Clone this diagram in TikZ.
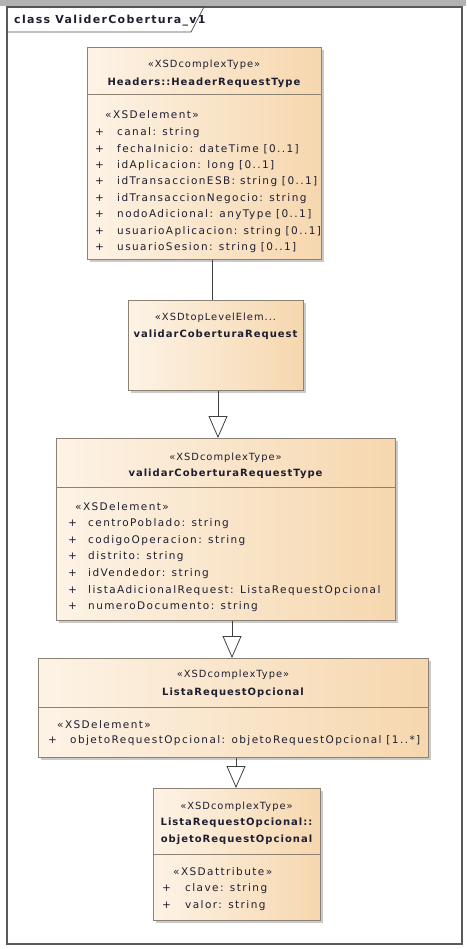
\documentclass[tikz,border=0pt]{standalone}
\usepackage{fontspec}
\setmainfont{DejaVu Sans}[LetterSpace=10]
\usetikzlibrary{arrows.meta,shadows}

\definecolor{boxl}{HTML}{FDF3E6}
\definecolor{boxr}{HTML}{F6D7AE}
\definecolor{boxline}{HTML}{8C8273}
\definecolor{txt}{HTML}{1E1E32}

\begin{document}
\begin{tikzpicture}[x=1pt, y=-1pt,
    cls/.style={draw=boxline, line width=0.8pt, left color=boxl, right color=boxr,
      anchor=north west, inner sep=0pt,
      drop shadow={shadow xshift=2.5pt, shadow yshift=-2.5pt, opacity=0.35, fill=black!60}},
    divider/.style={draw=boxline, line width=0.8pt},
    stereo/.style={font=\fontsize{9.9}{11}\selectfont, text=txt, inner sep=0pt},
    clsname/.style={font=\fontsize{10}{17}\selectfont\bfseries, text=txt, inner sep=0pt, align=center},
    attr/.style={font=\fontsize{10.5}{12}\selectfont\addfontfeatures{LetterSpace=13.5}, text=txt,
      inner sep=0pt, anchor=mid west},
    gen/.style={-{Triangle[open, length=22pt, width=19pt]}, line width=0.8pt, draw=black!75},
    assoc/.style={line width=0.8pt, draw=black!75},
  ]
  \useasboundingbox (0,0) rectangle (466,949);
  \def\dy{16.4}  % attribute line spacing

  % frame
  \fill[gray!60] (0,0) rectangle (466,6);
  \draw[black!65, line width=2.2pt] (7,7) rectangle (462,944);
  \draw[black!70, line width=0.7pt] (7,7) -- (204,7) -- (191,32) -- (7,32);
  \node[font=\fontsize{11}{12}\selectfont\bfseries\addfontfeatures{LetterSpace=12}, text=txt,
    anchor=mid west, inner sep=0pt] (frm) at (14,21) {class ValiderCobertura\_v1};

  % Headers::HeaderRequestType
  \node[cls, minimum width=234pt, minimum height=212pt] (hdr) at (87,47) {};
  \draw[divider] (87,94) -- (321,94);
  \node[stereo] (hdrst) at (204,65) {«XSDcomplexType»};
  \node[clsname] (hdrnm) at (204,83) {Headers::HeaderRequestType};
  \node[attr] (hdrel) at (105,116) {«XSDelement»};
  \foreach \t [count=\i] in {canal: string, fechaInicio: dateTime [0..1],
      idAplicacion: long [0..1], idTransaccionESB: string [0..1],
      idTransaccionNegocio: string, nodoAdicional: anyType [0..1],
      usuarioAplicacion: string [0..1], usuarioSesion: string [0..1]} {
    \node[attr] (hdrp\i) at (95,{133+\dy*(\i-1)}) {+};
    \node[attr] (hdra\i) at (117,{133+\dy*(\i-1)}) {\t};
  }

  % validarCoberturaRequest
  \node[cls, minimum width=175pt, minimum height=90pt] (req) at (128,300) {};
  \node[stereo] (reqst) at (215.5,318) {«XSDtopLevelElem...};
  \node[clsname] (reqnm) at (215.5,335) {validarCoberturaRequest};

  % validarCoberturaRequestType
  \node[cls, minimum width=339pt, minimum height=182pt] (rtype) at (56,438) {};
  \draw[divider] (56,487) -- (395,487);
  \node[stereo] (rtypest) at (225.5,458) {«XSDcomplexType»};
  \node[clsname] (rtypenm) at (225.5,474) {validarCoberturaRequestType};
  \node[attr] (rtypeel) at (75,508) {«XSDelement»};
  \foreach \t [count=\i] in {centroPoblado: string, codigoOperacion: string,
      distrito: string, idVendedor: string,
      listaAdicionalRequest: ListaRequestOpcional, numeroDocumento: string} {
    \node[attr] (rtypep\i) at (68,{524+16.6*(\i-1)}) {+};
    \node[attr] (rtypea\i) at (88,{524+16.6*(\i-1)}) {\t};
  }

  % ListaRequestOpcional
  \node[cls, minimum width=390pt, minimum height=99pt] (lista) at (38,658) {};
  \draw[divider] (38,707) -- (428,707);
  \node[stereo] (listast) at (233,675) {«XSDcomplexType»};
  \node[clsname] (listanm) at (233,693) {ListaRequestOpcional};
  \node[attr] (listael) at (57,726) {«XSDelement»};
  \node[attr] (listap1) at (48,741) {+};
  \node[attr] (listaa1) at (70,741) {objetoRequestOpcional: objetoRequestOpcional [1..*]};

  % ListaRequestOpcional::objetoRequestOpcional
  \node[cls, minimum width=167pt, minimum height=132pt] (obj) at (153,788) {};
  \draw[divider] (153,854) -- (320,854);
  \node[stereo] (objst) at (236.5,807) {«XSDcomplexType»};
  \node[clsname] (objnm) at (236.5,831.5) {ListaRequestOpcional::\\objetoRequestOpcional};
  \node[attr] (objel) at (173,873) {«XSDattribute»};
  \foreach \t [count=\i] in {clave: string, valor: string} {
    \node[attr] (objp\i) at (162,{889+17*(\i-1)}) {+};
    \node[attr] (obja\i) at (185,{889+17*(\i-1)}) {\t};
  }

  % connectors
  \coordinate (c1) at (212,0);
  \coordinate (c2) at (218,0);
  \coordinate (c3) at (232,0);
  \coordinate (c4) at (236,0);
  \draw[assoc] (hdr.south -| c1) -- (req.north -| c1);
  \draw[gen] (req.south -| c2) -- (rtype.north -| c2);
  \draw[gen] (rtype.south -| c3) -- (lista.north -| c3);
  \draw[gen] (lista.south -| c4) -- (obj.north -| c4);
\end{tikzpicture}
\end{document}
